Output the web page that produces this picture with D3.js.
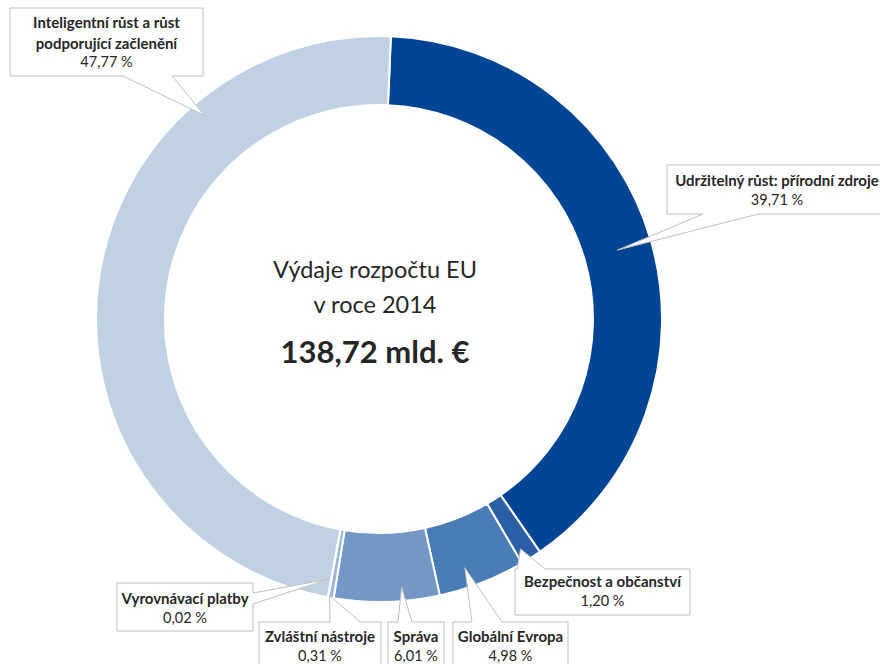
<!DOCTYPE html>
<html>
<head>
<meta charset="utf-8">
<script src="https://cdn.jsdelivr.net/npm/d3@7/dist/d3.min.js"></script>
<style>
  body { margin: 0; background: #fff; }
  svg { display: block; }
  text { font-family: Lato, "Open Sans", sans-serif; fill: #262626; }
</style>
</head>
<body>
<div id="chart"></div>
<script>
// data
const categories = [
    "Udržitelný růst: přírodní zdroje",
    "Bezpečnost a občanství",
    "Globální Evropa",
    "Správa",
    "Zvláštní nástroje",
    "Vyrovnávací platby",
    "Inteligentní růst a růst podporující začlenění"
]
const shares = [39.71, 1.20, 4.98, 6.01, 0.31, 0.02, 47.77]
const labelLines = [
    ["Udržitelný růst: přírodní zdroje"],
    ["Bezpečnost a občanství"],
    ["Globální Evropa"],
    ["Správa"],
    ["Zvláštní nástroje"],
    ["Vyrovnávací platby"],
    ["Inteligentní růst a růst", "podporující začlenění"]
]
const colors = ["#004494", "#2a5fa6", "#4a7cb6", "#7398c6", "#9db6d9", "#b3c7e1", "#c0d1e4"]
const titleLines = ["Výdaje rozpočtu EU", "v roce 2014"]
const totalLabel = "138,72 mld. €"

const width = 880
const height = 664
const cx = 379
const cy = 319
const outerR = 283
const innerR = 214

const locale = d3.formatLocale({decimal: ",", thousands: " ", grouping: [3], currency: ["", " €"]})
const fmt = locale.format(".2f")

// callout boxes (layout only)
const callouts = [
    {x: 667, y: 165, w: 220, h: 49, side: "bottom", base: [703, 758], tipR: 248, shift: 0, ty: 21},
    {x: 515, y: 569, w: 175, h: 46, side: "top", base: [517, 545], tipR: 270, shift: 0.2, ty: 18},
    {x: 453, y: 622, w: 115, h: 60, side: "top", base: [472, 502], tipR: 263, shift: 0.13, ty: 20},
    {x: 388, y: 622, w: 56, h: 60, side: "top", base: [398, 412], tipR: 269, shift: -0.15, ty: 20},
    {x: 259, y: 622, w: 122, h: 60, side: "top", base: [330, 360], tipR: 281, shift: 0.3, ty: 20},
    {x: 117, y: 583, w: 136, h: 48, side: "right", base: [593, 604], tipR: 265, shift: 8, ty: 21},
    {x: 10, y: 8, w: 193, h: 68, side: "bottom", base: [123, 172], tipR: 268, shift: 0.25, ty: 20}
]

const svg = d3.select("div#chart").append("svg").attr("width", width).attr("height", height)
const ringGroup = svg.append("g").attr("transform", `translate(${cx}, ${cy})`)
const labelGroup = svg.append("g")

const start = 2.4 * Math.PI / 180
const pie = d3.pie().sort(null).value(d => d).startAngle(start).endAngle(start + 2 * Math.PI)
const arcs = pie(shares)
const arc = d3.arc().innerRadius(innerR).outerRadius(outerR)

ringGroup.selectAll("path").data(arcs).join("path")
    .attr("d", arc)
    .attr("fill", (d, i) => colors[i])
    .attr("stroke", "#fff")
    .attr("stroke-width", 2)

// center text
svg.append("text").attr("x", cx - 4).attr("y", 278).attr("text-anchor", "middle")
    .style("font-size", "23.5px").text(titleLines[0])
svg.append("text").attr("x", cx - 4).attr("y", 313).attr("text-anchor", "middle")
    .style("font-size", "23.5px").text(titleLines[1])
svg.append("text").attr("x", cx - 4).attr("y", 363).attr("text-anchor", "middle")
    .style("font-size", "31px").style("font-weight", "bold").text(totalLabel)

function tipPoint(d, c) {
    // point inside the slice, shift as share of slice span
    const span = d.endAngle - d.startAngle
    const a = d.startAngle + span * (0.5 + c.shift)
    const p = d3.arc().innerRadius(c.tipR).outerRadius(c.tipR).startAngle(a).endAngle(a).centroid()
    return [cx + p[0], cy + p[1]]
}

function calloutPath(c, t) {
    const r = c.x + c.w, b = c.y + c.h
    const p = d3.path()
    if (c.side === "bottom") {
        p.moveTo(c.x, c.y); p.lineTo(r, c.y); p.lineTo(r, b); p.lineTo(c.base[1], b)
        p.lineTo(t[0], t[1]); p.lineTo(c.base[0], b); p.lineTo(c.x, b)
    } else if (c.side === "top") {
        p.moveTo(c.x, c.y); p.lineTo(c.base[0], c.y); p.lineTo(t[0], t[1]); p.lineTo(c.base[1], c.y)
        p.lineTo(r, c.y); p.lineTo(r, b); p.lineTo(c.x, b)
    } else {
        p.moveTo(c.x, c.y); p.lineTo(r, c.y); p.lineTo(r, c.base[0]); p.lineTo(t[0], t[1])
        p.lineTo(r, c.base[1]); p.lineTo(r, b); p.lineTo(c.x, b)
    }
    p.closePath()
    return p.toString()
}

arcs.forEach((d, i) => {
    const c = callouts[i]
    const t = tipPoint(d, c)
    const g = labelGroup.append("g")
    g.append("path").attr("d", calloutPath(c, t))
        .attr("fill", "#fff").attr("stroke", "#bfbfbf").attr("stroke-width", 1)
    const mid = c.x + c.w / 2
    const lines = labelLines[i]
    lines.forEach((l, k) => {
        g.append("text").attr("x", mid).attr("y", c.y + c.ty + k * 20.5)
            .attr("text-anchor", "middle").style("font-size", "15px").style("font-weight", "bold")
            .text(l)
    })
    g.append("text").attr("x", mid).attr("y", c.y + c.ty + lines.length * 20 - 1)
        .attr("text-anchor", "middle").style("font-size", "14.5px")
        .text(fmt(shares[i]) + " %")
})
</script>
</body>
</html>
